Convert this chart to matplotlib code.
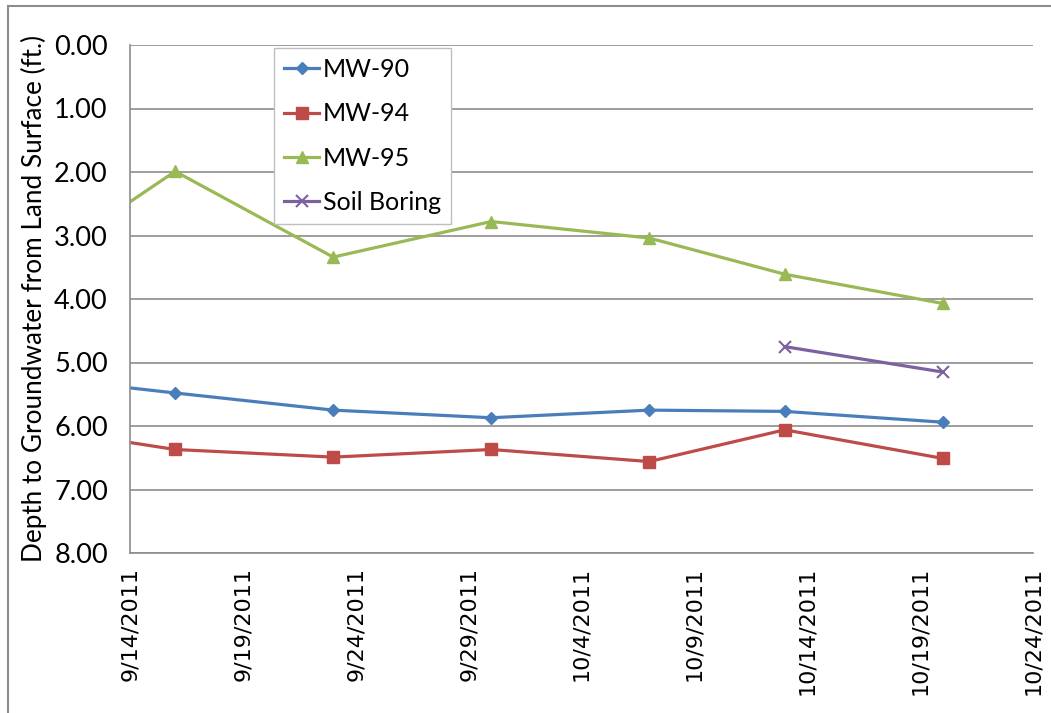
import datetime as dt

import matplotlib
matplotlib.use("Agg")
import matplotlib.pyplot as plt
from matplotlib.lines import Line2D

# sampling dates (first entry is where the lines enter the plot at the left edge)
dates = ["2011-09-14", "2011-09-16", "2011-09-23", "2011-09-30",
         "2011-10-07", "2011-10-13", "2011-10-20"]
mw90 = [5.40, 5.48, 5.75, 5.87, 5.75, 5.77, 5.94]
mw94 = [6.26, 6.37, 6.49, 6.37, 6.56, 6.06, 6.51]
mw95 = [2.47, 1.99, 3.34, 2.78, 3.04, 3.61, 4.07]
soil_dates = ["2011-10-13", "2011-10-20"]
soil = [4.75, 5.15]

y_ticks = [0, 1, 2, 3, 4, 5, 6, 7, 8]
x_start = dt.datetime(2011, 9, 14)
x_ticks = [x_start + dt.timedelta(days=5 * i) for i in range(9)]

x = [dt.datetime.strptime(d, "%Y-%m-%d") for d in dates]
xs = [dt.datetime.strptime(d, "%Y-%m-%d") for d in soil_dates]

fig = plt.figure(figsize=(10.51, 7.13), dpi=100)
ax = fig.add_axes([130 / 1051, 1 - 553 / 713, 903 / 1051, 508 / 713])

mk = range(1, len(x))
ax.plot(x, mw90, color="#4a7ebb", lw=2.3, marker="D", ms=6.5, markevery=mk, label="MW-90")
ax.plot(x, mw94, color="#be4b48", lw=2.3, marker="s", ms=8.5, markevery=mk, label="MW-94")
ax.plot(x, mw95, color="#98b954", lw=2.3, marker="^", ms=9, markevery=mk, label="MW-95")
ax.plot(xs, soil, color="#7d60a0", lw=2.3, marker="x", ms=9, mew=1.5, label="Soil Boring")

ax.set_xlim(x_ticks[0], x_ticks[-1])
ax.set_ylim(8, 0)
ax.set_yticks(y_ticks)
ax.set_yticklabels([f"{v:.2f}" for v in y_ticks], fontsize=19.5, family="Lato")
ax.set_xticks(x_ticks)
ax.set_xticklabels([f"{d.month}/{d.day}/{d.year}" for d in x_ticks],
                   rotation=90, fontsize=16, family="DejaVu Sans")
ax.tick_params(length=0)
ax.tick_params(axis="y", pad=16)
ax.tick_params(axis="x", pad=10)
ax.grid(axis="y", color="#8c8c8c", lw=1.2)
ax.set_axisbelow(True)
for side in ["top", "right"]:
    ax.spines[side].set_visible(False)
for side in ["left", "bottom"]:
    ax.spines[side].set_color("#8c8c8c")
    ax.spines[side].set_linewidth(1.2)

ax.set_ylabel("Depth to Groundwater from Land Surface (ft.)", fontsize=18.8, family="Lato",
              labelpad=5)

leg = ax.legend(loc="upper left", bbox_to_anchor=(144 / 903, 1.0 - 3 / 508),
                prop={"family": "Lato", "size": 18}, frameon=True, fancybox=False,
                handlelength=1.4, handletextpad=0.15, labelspacing=0.85, borderpad=0.4,
                borderaxespad=0.0, framealpha=1.0)
leg.get_frame().set_edgecolor("#bfbfbf")
leg.get_frame().set_linewidth(1.0)

# outer chart frame
fig.add_artist(Line2D([8 / 1051, 8 / 1051], [0, 1 - 6 / 713], transform=fig.transFigure,
                      color="#8c8c8c", lw=1.5))
fig.add_artist(Line2D([8 / 1051, 1], [1 - 6 / 713, 1 - 6 / 713], transform=fig.transFigure,
                      color="#8c8c8c", lw=1.5))

fig.savefig("out.png", dpi=100)
